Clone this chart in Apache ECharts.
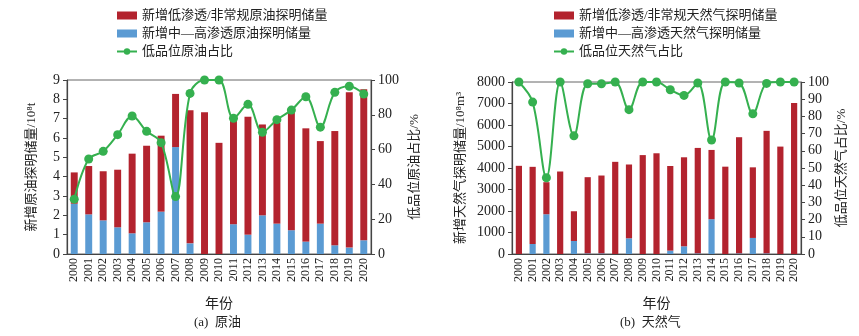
<!DOCTYPE html>
<html>
<head>
<meta charset="utf-8">
<script src="https://cdn.jsdelivr.net/npm/echarts@6/dist/echarts.min.js"></script>
<style>
  html, body { margin: 0; padding: 0; background: #fff; }
  #chart { width: 859px; height: 336px; }
</style>
</head>
<body>
<div id="chart"></div>
<script>
const years = ['2000','2001','2002','2003','2004','2005','2006','2007','2008','2009','2010',
  '2011','2012','2013','2014','2015','2016','2017','2018','2019','2020']

// 原油 (10^8 t)
const oilHigh = [2.6, 2.05, 1.74, 1.38, 1.07, 1.64, 2.19, 5.53, 0.55, 0, 0,
  1.54, 1.0, 2.0, 1.57, 1.23, 0.64, 1.57, 0.45, 0.33, 0.71]
const oilLow = [1.62, 2.5, 2.54, 2.98, 4.12, 3.96, 3.93, 2.75, 6.88, 7.33, 5.75,
  5.53, 6.1, 4.7, 5.22, 6.09, 5.86, 4.27, 5.91, 8.03, 7.81]
const oilRatio = [31.5, 54.6, 59, 68.6, 79.3, 70.5, 64, 33, 92.3, 100, 100,
  78, 86, 70, 77.2, 82.7, 90.4, 72.9, 92.9, 96.4, 91.9]

// 天然气 (10^8 m^3)
const gasHigh = [0, 466, 1849, 0, 606, 30, 30, 0, 730, 0, 0,
  156, 358, 30, 1619, 0, 30, 747, 30, 0, 0]
const gasLow = [4101, 3588, 1491, 3837, 1382, 3543, 3620, 4287, 3433, 4600, 4685,
  3937, 4140, 4904, 3221, 4062, 5402, 3284, 5698, 4996, 7019]
const gasRatio = [100, 88.3, 44.3, 100, 68.7, 99, 99, 100, 83.9, 100, 100,
  95.5, 92.2, 99.4, 66.3, 100, 99.4, 81.5, 99.2, 100, 100]

const RED = '#b3232e'
const BLUE = '#5b9bd3'
const GREEN = '#35b04f'
const TXT = '#222'
const FONT = '"Liberation Serif", "Noto Sans CJK SC", serif'

const chart = echarts.init(document.getElementById('chart'))

function yAxisBase(extra) {
  return Object.assign({
    type: 'value',
    nameLocation: 'middle',
    nameRotate: 90,
    nameTextStyle: { color: TXT, fontSize: 13, fontFamily: FONT },
    axisLine: { show: true, lineStyle: { color: '#444', width: 1.2 } },
    axisTick: { show: true, inside: false, length: 4, lineStyle: { color: '#444' } },
    axisLabel: { color: TXT, fontSize: 14, fontFamily: FONT, margin: 7, formatter: (v) => String(v) },
    splitLine: { show: false },
  }, extra)
}

function xAxisBase(gridIndex) {
  return {
    type: 'category',
    gridIndex,
    data: years,
    name: '年份',
    nameLocation: 'middle',
    nameGap: 43,
    nameTextStyle: { color: TXT, fontSize: 14, fontFamily: FONT },
    axisLine: { lineStyle: { color: '#444', width: 1.2 } },
    axisTick: { show: false },
    axisLabel: { color: TXT, fontSize: 12, fontFamily: FONT, rotate: 90, margin: 4, interval: 0 },
  }
}

function legendBase(left, names) {
  return {
    left, top: 4,
    orient: 'vertical',
    itemWidth: 20, itemHeight: 8, itemGap: 5,
    textStyle: { color: TXT, fontSize: 13, fontFamily: FONT },
    data: [
      { name: names[0], icon: 'rect' },
      { name: names[1], icon: 'rect' },
      { name: names[2] },
    ],
  }
}

const option = {
  animation: false,
  textStyle: { fontFamily: FONT },
  legend: [
    legendBase(111, ['新增低渗透/非常规原油探明储量', '新增中—高渗透原油探明储量', '低品位原油占比']),
    legendBase(548, ['新增低渗透/非常规天然气探明储量', '新增中—高渗透天然气探明储量', '低品位天然气占比']),
  ],
  grid: [
    { left: 67, right: 488, top: 80, bottom: 82, show: true, borderColor: '#666', borderWidth: 1 },
    { left: 512, right: 58, top: 82, bottom: 82, show: true, borderColor: '#666', borderWidth: 1 },
  ],
  xAxis: [xAxisBase(0), xAxisBase(1)],
  yAxis: [
    yAxisBase({ gridIndex: 0, min: 0, max: 9, interval: 1, name: '新增原油探明储量/10⁸t', nameGap: 29 }),
    yAxisBase({ gridIndex: 0, min: 0, max: 100, interval: 20, position: 'right', name: '低品位原油占比/%', nameGap: 37 }),
    yAxisBase({ gridIndex: 1, min: 0, max: 8000, interval: 1000, name: '新增天然气探明储量/10⁸m³', nameGap: 45 }),
    yAxisBase({ gridIndex: 1, min: 0, max: 100, interval: 10, position: 'right', name: '低品位天然气占比/%', nameGap: 34 }),
  ],
  graphic: [
    { type: 'text', left: 194, top: 316, style: { text: '(a)  原油', fill: TXT, font: '13px ' + FONT } },
    { type: 'text', left: 620, top: 316, style: { text: '(b)  天然气', fill: TXT, font: '13px ' + FONT } },
  ],
  series: [
    { name: '新增中—高渗透原油探明储量', type: 'bar', stack: 'oil', xAxisIndex: 0, yAxisIndex: 0,
      data: oilHigh, barWidth: '48%', itemStyle: { color: BLUE } },
    { name: '新增低渗透/非常规原油探明储量', type: 'bar', stack: 'oil', xAxisIndex: 0, yAxisIndex: 0,
      data: oilLow, barWidth: '48%', itemStyle: { color: RED } },
    { name: '低品位原油占比', type: 'line', xAxisIndex: 0, yAxisIndex: 1, data: oilRatio,
      smooth: 0.35, symbol: 'circle', symbolSize: 9,
      lineStyle: { color: GREEN, width: 2 }, itemStyle: { color: GREEN } },

    { name: '新增中—高渗透天然气探明储量', type: 'bar', stack: 'gas', xAxisIndex: 1, yAxisIndex: 2,
      data: gasHigh, barWidth: '45%', itemStyle: { color: BLUE } },
    { name: '新增低渗透/非常规天然气探明储量', type: 'bar', stack: 'gas', xAxisIndex: 1, yAxisIndex: 2,
      data: gasLow, barWidth: '45%', itemStyle: { color: RED } },
    { name: '低品位天然气占比', type: 'line', xAxisIndex: 1, yAxisIndex: 3, data: gasRatio,
      smooth: 0.35, symbol: 'circle', symbolSize: 9,
      lineStyle: { color: GREEN, width: 2 }, itemStyle: { color: GREEN } },
  ],
}

chart.setOption(option)
</script>
</body>
</html>
